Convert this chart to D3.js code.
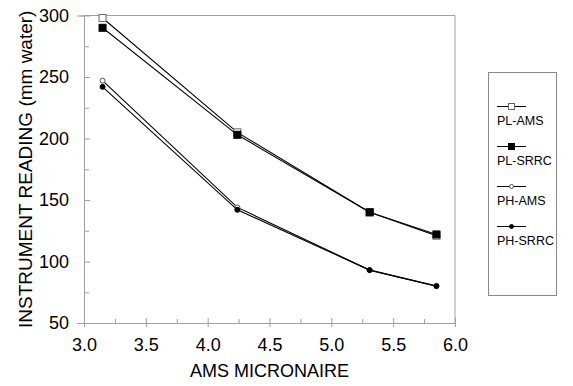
<!DOCTYPE html>
<html>
<head>
<meta charset="utf-8">
<script src="https://cdn.jsdelivr.net/npm/d3@7"></script>
<style>
  body { margin: 0; background: #fff; }
  svg { font-family: "Liberation Sans", Arial, sans-serif; }
</style>
</head>
<body>
<script>
// Données
const micronaire = [3.15, 4.24, 5.31, 5.85];
const plAms = [298, 205, 140, 121];
const plSrrc = [290, 203, 140, 122];
const phAms = [247, 144, 93, 80];
const phSrrc = [242, 142, 93, 80];
const seriesNames = ["PL-AMS", "PL-SRRC", "PH-AMS", "PH-SRRC"];
const xTicks = [3.0, 3.5, 4.0, 4.5, 5.0, 5.5, 6.0];
const yTicks = [50, 100, 150, 200, 250, 300];

const width = 573;
const height = 386;
const margin = { top: 15.5, right: 118, bottom: 63, left: 84 };
const axisColor = '#a0a0a0';

const series = [
  { name: seriesNames[0], values: plAms, shape: 'square', filled: false },
  { name: seriesNames[1], values: plSrrc, shape: 'square', filled: true },
  { name: seriesNames[2], values: phAms, shape: 'circle', filled: false },
  { name: seriesNames[3], values: phSrrc, shape: 'circle', filled: true }
];

const svg = d3.select('body')
  .append('svg')
  .attr('width', width)
  .attr('height', height);

const x = d3.scaleLinear()
  .domain([3, 6])
  .range([margin.left, width - margin.right]);

const y = d3.scaleLinear()
  .domain([50, 300])
  .range([height - margin.bottom, margin.top]);

// Cadre (haut et droite)
svg.append('path')
  .attr('d', `M${x(3)},${y(300)}H${x(6)}V${y(50)}`)
  .attr('fill', 'none')
  .attr('stroke', axisColor);

// Axe vertical
const yAxis = svg.append('g')
  .attr('transform', `translate(${x(3)},0)`);
yAxis.call(d3.axisLeft(y).tickValues(d3.range(75, 300, 50)).tickSize(4).tickFormat(''))
  .call(g => g.selectAll('.tick line').attr('x2', 5));
yAxis.append('g')
  .call(d3.axisLeft(y).tickValues(yTicks).tickSize(7).tickPadding(8).tickFormat(d3.format('d')))
  .call(g => g.selectAll('.tick line').attr('x2', 6))
  .call(g => g.selectAll('text').attr('font-size', 18).attr('fill', '#000').attr('font-family', null));
yAxis.selectAll('.domain').attr('stroke', axisColor);
yAxis.selectAll('.tick line').attr('stroke', axisColor);

// Axe horizontal
const xAxis = svg.append('g')
  .attr('transform', `translate(0,${y(50)})`);
xAxis.call(d3.axisBottom(x).tickValues(d3.range(3.25, 6, 0.5)).tickSize(-4).tickFormat(''));
xAxis.append('g')
  .call(d3.axisBottom(x).tickValues(xTicks).tickSize(4).tickPadding(11).tickFormat(d3.format('.1f')))
  .call(g => g.selectAll('.tick line').attr('y1', -5))
  .call(g => g.selectAll('text').attr('font-size', 18).attr('fill', '#000').attr('font-family', null));
xAxis.selectAll('.domain').attr('stroke', axisColor);
xAxis.selectAll('.tick line').attr('stroke', axisColor);

// Titres des axes
svg.append('text')
  .attr('x', (x(3) + x(6)) / 2)
  .attr('y', 377)
  .attr('text-anchor', 'middle')
  .attr('font-size', 18)
  .text('AMS MICRONAIRE');

svg.append('text')
  .attr('transform', `translate(32,${(y(50) + y(300)) / 2}) rotate(-90)`)
  .attr('text-anchor', 'middle')
  .attr('font-size', 19)
  .text('INSTRUMENT READING (mm water)');

const line = d3.line()
  .x((d, i) => x(micronaire[i]))
  .y(d => y(d));

function drawMarker(g, shape, filled, cx, cy, size) {
  if (shape === 'square') {
    g.append('rect')
      .attr('x', cx - size / 2).attr('y', cy - size / 2)
      .attr('width', size).attr('height', size)
      .attr('fill', filled ? '#000' : '#fff')
      .attr('stroke', filled ? '#000' : '#666')
      .attr('stroke-width', 1);
  } else {
    g.append('circle')
      .attr('cx', cx).attr('cy', cy).attr('r', size / 2)
      .attr('fill', filled ? '#000' : '#fff')
      .attr('stroke', filled ? '#000' : '#555')
      .attr('stroke-width', 1);
  }
}

// Lignes et marqueurs
series.forEach(s => {
  const g = svg.append('g');
  g.append('path')
    .attr('d', line(s.values))
    .attr('fill', 'none')
    .attr('stroke', '#000')
    .attr('stroke-width', 1.1);
  s.values.forEach((v, i) => {
    drawMarker(g, s.shape, s.filled, x(micronaire[i]), y(v), s.shape === 'square' ? 7 : 5);
  });
});

// Légende
const legend = svg.append('g');
legend.append('rect')
  .attr('x', 488.5).attr('y', 72.5)
  .attr('width', 68).attr('height', 223)
  .attr('fill', '#fff')
  .attr('stroke', '#888');

series.forEach((s, i) => {
  const ly = 106.5 + i * 40;
  legend.append('line')
    .attr('x1', 497).attr('x2', 526)
    .attr('y1', ly).attr('y2', ly)
    .attr('stroke', '#000');
  drawMarker(legend, s.shape, s.filled, 511.5, ly, s.shape === 'square' ? 6 : 4);
  legend.append('text')
    .attr('x', 497)
    .attr('y', ly + 18)
    .attr('font-size', 12.5)
    .text(s.name);
});
</script>
</body>
</html>
